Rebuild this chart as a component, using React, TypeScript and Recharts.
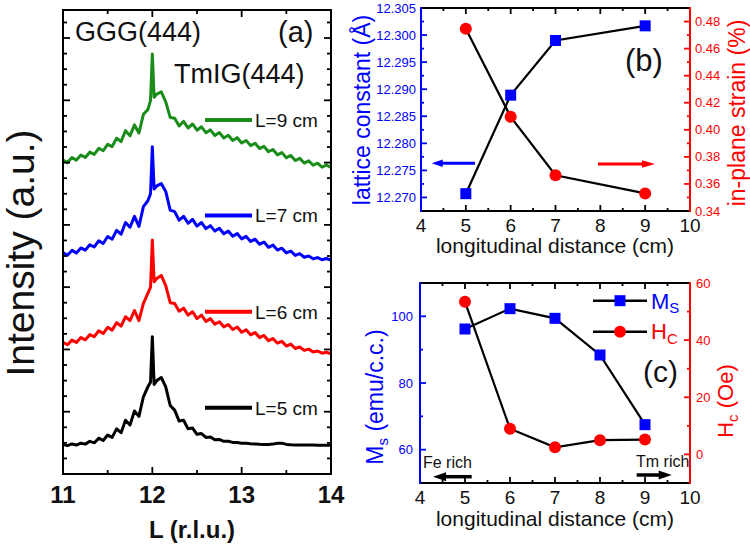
import React from 'react';
import { LineChart, Line, XAxis, YAxis } from 'recharts';

const FONT = '"Liberation Sans", Arial, Helvetica, sans-serif';
const BLUE = '#0000ff';
const RED = '#ff0000';
const GREEN = '#1a8c1a';
const INK = '#111111';

// ---------------- Panel (a): XRD scans (L in r.l.u., stacked intensity in a.u.)
const lValues = [
  11.0, 11.05, 11.1, 11.15, 11.2, 11.25, 11.3, 11.35, 11.4, 11.45, 11.5, 11.55, 11.6, 11.65, 11.7, 11.75, 11.8, 11.85, 11.9, 11.95,
  11.98, 12.0, 12.02,
  12.05, 12.1, 12.15, 12.2, 12.25, 12.3, 12.35, 12.4, 12.45, 12.5,
  12.55, 12.6, 12.65, 12.7, 12.75, 12.8, 12.85, 12.9, 12.95, 13.0,
  13.05, 13.1, 13.15, 13.2, 13.25, 13.3, 13.35, 13.4, 13.45, 13.5,
  13.55, 13.6, 13.65, 13.7, 13.75, 13.8, 13.85, 13.9, 13.95, 14.0,
];
const scanL5 = [
  1.9, 1.82, 1.93, 1.86, 1.98, 1.92, 2.1, 2.0, 2.3, 2.15, 2.5, 2.35, 2.9, 2.65, 3.45, 3.15, 4.05, 3.7, 4.96, 5.6,
  5.9, 8.82, 5.75,
  6.0, 6.2, 5.6, 4.4, 4.1, 3.4, 3.45, 2.9, 2.95, 2.55,
  2.6, 2.35, 2.38, 2.2, 2.22, 2.1, 2.1, 2.03, 2.02, 1.98,
  1.97, 1.94, 1.93, 1.91, 1.9, 1.9, 1.92, 1.97, 1.98, 1.9,
  1.88, 1.87, 1.87, 1.86, 1.86, 1.86, 1.85, 1.85, 1.85, 1.85,
];
const scanL6 = [
  8.45, 8.3, 8.6, 8.45, 8.76, 8.62, 8.95, 8.82, 9.2, 9.02, 9.42, 9.24, 9.72, 9.5, 10.1, 9.85, 10.5, 9.85, 10.96, 11.6,
  12.0, 15.03, 12.35,
  12.55, 12.75, 12.1, 11.0, 10.95, 10.45, 10.65, 10.2, 10.42, 9.98,
  10.2, 9.8, 9.98, 9.62, 9.78, 9.45, 9.6, 9.28, 9.44, 9.1,
  9.26, 8.94, 9.08, 8.76, 8.9, 8.56, 8.7, 8.4, 8.52, 8.22,
  8.34, 8.06, 8.16, 7.94, 8.02, 7.84, 7.9, 7.76, 7.82, 7.72,
];
const scanL7 = [
  14.22, 14.05, 14.36, 14.2, 14.52, 14.38, 14.72, 14.58, 14.98, 14.8, 15.25, 15.08, 15.65, 15.4, 16.15, 15.85, 16.55, 15.9, 17.17, 17.55,
  18.0, 21.02, 18.3,
  18.5, 18.65, 18.15, 16.95, 16.85, 16.3, 16.55, 16.1, 16.35, 15.92,
  16.15, 15.76, 15.95, 15.6, 15.78, 15.43, 15.6, 15.27, 15.44, 15.1,
  15.26, 14.94, 15.08, 14.75, 14.9, 14.56, 14.7, 14.38, 14.5, 14.2,
  14.32, 14.04, 14.15, 13.92, 14.0, 13.82, 13.9, 13.76, 13.84, 13.74,
];
const scanL9 = [
  20.17, 20.0, 20.32, 20.16, 20.48, 20.33, 20.67, 20.53, 20.92, 20.76, 21.17, 21.03, 21.56, 21.35, 22.05, 21.72, 22.42, 21.9, 23.1, 23.4,
  24.0, 26.97, 24.2,
  24.4, 24.55, 23.9, 22.9, 22.85, 22.35, 22.65, 22.22, 22.48, 22.08,
  22.3, 21.92, 22.1, 21.74, 21.93, 21.58, 21.76, 21.42, 21.6, 21.26,
  21.42, 21.09, 21.24, 20.9, 21.04, 20.7, 20.84, 20.5, 20.64, 20.31,
  20.46, 20.13, 20.28, 19.97, 20.11, 19.83, 19.96, 19.7, 19.85, 19.68,
];
const scanLabels = ['L=9 cm', 'L=7 cm', 'L=6 cm', 'L=5 cm'];
const lTicks = [11, 11.5, 12, 12.5, 13, 13.5, 14];
const lDomain = [11, 14];
const intensityDomain = [0, 29.8];
const intensityTicks = [
  0, 1, 2, 3, 4, 5, 6, 7, 8, 9, 10, 11, 12, 13, 14, 15, 16, 17, 18, 19, 20, 21, 22, 23, 24, 25, 26, 27, 28, 29,
];

// ---------------- Panel (b): lattice constant & strain
const distB = [5, 6, 7, 9];
const latticeConst = [12.2707, 12.2889, 12.299, 12.3017];
const strainPct = [0.4746, 0.4096, 0.3664, 0.353];
const latDomain = [12.2675, 12.305];
const strainDomain = [0.34, 0.49];
const latTicks = [
  12.27, 12.2725, 12.275, 12.2775, 12.28, 12.2825, 12.285, 12.2875, 12.29, 12.2925, 12.295, 12.2975, 12.3, 12.3025, 12.305,
];
const strainTicks = [0.34, 0.35, 0.36, 0.37, 0.38, 0.39, 0.4, 0.41, 0.42, 0.43, 0.44, 0.45, 0.46, 0.47, 0.48, 0.49];

// ---------------- Panel (c): Ms & Hc
const distC = [5, 6, 7, 8, 9];
const msValues = [96.2, 102.3, 99.4, 88.4, 67.5];
const hcValues = [53.4, 9.0, 2.5, 5.0, 5.2];
const msDomain = [50, 110];
const hcDomain = [-10, 60];
const msTicks = [60, 70, 80, 90, 100];
const hcTicks = [-10, 0, 10, 20, 30, 40, 50, 60];
const distDomain = [4, 10];
const distTicks = [4, 4.5, 5, 5.5, 6, 6.5, 7, 7.5, 8, 8.5, 9, 9.5, 10];

const dataA = lValues.map((L, i) => ({ L, s5: scanL5[i], s6: scanL6[i], s7: scanL7[i], s9: scanL9[i] }));
const dataB = distB.map((d, i) => ({ d, lat: latticeConst[i], strain: strainPct[i] }));
const dataC = distC.map((d, i) => ({ d, ms: msValues[i], hc: hcValues[i] }));

// Page layout of the three plot boxes and chart margins
const boxA = { left: 0, top: 0, width: 345, height: 545, m: { top: 9, right: 13, bottom: 0, left: 0 }, yl: 63, yr: 1, xb: 71, xt: 1 };
const boxB = { left: 345, top: 0, width: 405, height: 262, m: { top: 7, right: 0, bottom: 0, left: 0 }, yl: 76, yr: 60, xb: 51, xt: 1 };
const boxC = { left: 345, top: 262, width: 405, height: 283, m: { top: 20, right: 0, bottom: 0, left: 0 }, yl: 75, yr: 60, xb: 62, xt: 1 };
const plotRect = (b: typeof boxA) => ({
  x1: b.left + b.m.left + b.yl,
  x2: b.left + b.width - b.m.right - b.yr,
  y1: b.top + b.m.top + b.xt,
  y2: b.top + b.height - b.m.bottom - b.xb,
});

type Side = 'bottom' | 'top' | 'left' | 'right';
type TickSpec = {
  side: Side;
  base: number;
  step: number;
  major: number;
  minor: number;
  stroke: string;
  label?: { size: number; weight?: number; fill: string; offset: number; decimals: number };
};

const isMultiple = (v: number, base: number, step: number) => {
  const q = (v - base) / step;
  return Math.abs(q - Math.round(q)) < 1e-6;
};

function makeTick(s: TickSpec) {
  return (props: any) => {
    const { x, y, payload, index } = props;
    const v = Number(payload.value);
    const maj = isMultiple(v, s.base, s.step);
    const len = maj ? s.major : s.minor;
    const dx = s.side === 'left' ? len : s.side === 'right' ? -len : 0;
    const dy = s.side === 'bottom' ? -len : s.side === 'top' ? len : 0;
    let label: React.ReactNode = null;
    if (maj && s.label) {
      const t = s.label;
      const txt = v.toFixed(t.decimals);
      const common = {
        fontFamily: FONT,
        fontSize: t.size,
        fontWeight: t.weight ?? 400,
        fill: t.fill,
        dominantBaseline: 'central' as const,
      };
      if (s.side === 'bottom')
        label = (
          <text x={x} y={y + t.offset} textAnchor="middle" {...common}>
            {txt}
          </text>
        );
      else if (s.side === 'left')
        label = (
          <text x={x - t.offset} y={y} textAnchor="end" {...common}>
            {txt}
          </text>
        );
      else if (s.side === 'right')
        label = (
          <text x={x + t.offset} y={y} textAnchor="start" {...common}>
            {txt}
          </text>
        );
    }
    return (
      <g key={`tk${index}`}>
        <line x1={x} y1={y} x2={x + dx} y2={y + dy} stroke={s.stroke} strokeWidth={1.8} />
        {label}
      </g>
    );
  };
}

const squareDot = (color: string, size: number) => (p: any) => (
  <rect key={`sq${p.index}`} x={p.cx - size / 2} y={p.cy - size / 2} width={size} height={size} fill={color} />
);
const circleDot = (color: string, r: number) => (p: any) => (
  <circle key={`ci${p.index}`} cx={p.cx} cy={p.cy} r={r} fill={color} />
);

const axisProps = { tickSize: 0, tickMargin: 0, tickLine: false, interval: 0 as const, allowDataOverflow: true };
const frame = (c: string) => ({ stroke: c, strokeWidth: 2 });

function Arrow({ tail, tip, y, color, w, headL, headH }: { tail: number; tip: number; y: number; color: string; w: number; headL: number; headH: number }) {
  const dir = tip > tail ? 1 : -1;
  const base = tip - dir * headL;
  return (
    <g>
      <line x1={tail} y1={y} x2={base + dir * 1} y2={y} stroke={color} strokeWidth={w} />
      <polygon points={`${tip},${y} ${base},${y - headH} ${base},${y + headH}`} fill={color} />
    </g>
  );
}

// Plot frame as filled bars (robust rendering), coloured per side
function Frame({ b, left, right }: { b: typeof boxA; left: string; right: string }) {
  const r = plotRect(b);
  const w = 2;
  return (
    <g>
      <rect x={r.x1 - w / 2} y={r.y1 - w / 2} width={r.x2 - r.x1 + w} height={w} fill="#000" />
      <rect x={r.x1 - w / 2} y={r.y2 - w / 2} width={r.x2 - r.x1 + w} height={w} fill="#000" />
      <rect x={r.x1 - w / 2} y={r.y1 - w / 2} width={w} height={r.y2 - r.y1 + w} fill={left} />
      <rect x={r.x2 - w / 2} y={r.y1 - w / 2} width={w} height={r.y2 - r.y1 + w} fill={right} />
    </g>
  );
}

function PanelA() {
  const b = boxA;
  const tx = { base: 11, step: 1, major: 7, minor: 4, stroke: '#000' };
  const ty = { base: 0, step: 4, major: 7, minor: 4, stroke: '#000' };
  const lineProps = { type: 'linear' as const, strokeWidth: 3, dot: false, strokeLinejoin: 'round' as const, isAnimationActive: false };
  return (
    <div style={{ position: 'absolute', left: b.left, top: b.top }}>
      <LineChart width={b.width} height={b.height} data={dataA} margin={b.m}>
        <XAxis
          xAxisId="xa"
          dataKey="L"
          type="number"
          domain={lDomain}
          ticks={lTicks}
          height={b.xb}
          axisLine={frame('#000')}
          tick={makeTick({ side: 'bottom', ...tx, label: { size: 24, weight: 700, fill: INK, offset: 20, decimals: 0 } })}
          {...axisProps}
        />
        <XAxis
          xAxisId="xt"
          dataKey="L"
          orientation="top"
          type="number"
          domain={lDomain}
          ticks={lTicks}
          height={b.xt}
          axisLine={frame('#000')}
          tick={makeTick({ side: 'top', ...tx })}
          {...axisProps}
        />
        <YAxis
          yAxisId="ya"
          type="number"
          domain={intensityDomain}
          ticks={intensityTicks}
          width={b.yl}
          axisLine={frame('#000')}
          tick={makeTick({ side: 'left', ...ty })}
          {...axisProps}
        />
        <YAxis
          yAxisId="yr"
          orientation="right"
          type="number"
          domain={intensityDomain}
          ticks={intensityTicks}
          width={b.yr}
          axisLine={frame('#000')}
          tick={makeTick({ side: 'right', ...ty })}
          {...axisProps}
        />
        <Line xAxisId="xa" yAxisId="ya" dataKey="s5" stroke="#000" {...lineProps} />
        <Line xAxisId="xa" yAxisId="ya" dataKey="s6" stroke={RED} {...lineProps} />
        <Line xAxisId="xt" yAxisId="yr" dataKey="s7" stroke={BLUE} {...lineProps} />
        <Line xAxisId="xt" yAxisId="yr" dataKey="s9" stroke={GREEN} {...lineProps} />
      </LineChart>
    </div>
  );
}

function PanelB() {
  const b = boxB;
  const xt = { base: 4, step: 1, major: 6, minor: 3, stroke: '#000' };
  return (
    <div style={{ position: 'absolute', left: b.left, top: b.top }}>
      <LineChart width={b.width} height={b.height} data={dataB} margin={b.m}>
        <XAxis
          xAxisId="xb"
          dataKey="d"
          type="number"
          domain={distDomain}
          ticks={distTicks}
          height={b.xb}
          axisLine={frame('#000')}
          tick={makeTick({ side: 'bottom', ...xt, label: { size: 19, fill: INK, offset: 14, decimals: 0 } })}
          {...axisProps}
        />
        <XAxis
          xAxisId="xt"
          dataKey="d"
          orientation="top"
          type="number"
          domain={distDomain}
          ticks={distTicks}
          height={b.xt}
          axisLine={frame('#000')}
          tick={makeTick({ side: 'top', ...xt })}
          {...axisProps}
        />
        <YAxis
          yAxisId="lat"
          type="number"
          domain={latDomain}
          ticks={latTicks}
          width={b.yl}
          axisLine={frame(BLUE)}
          tick={makeTick({
            side: 'left', base: 12.27, step: 0.005, major: 6, minor: 3, stroke: BLUE,
            label: { size: 13, fill: BLUE, offset: 5, decimals: 3 },
          })}
          {...axisProps}
        />
        <YAxis
          yAxisId="strain"
          orientation="right"
          type="number"
          domain={strainDomain}
          ticks={strainTicks}
          width={b.yr}
          axisLine={frame(RED)}
          tick={makeTick({
            side: 'right', base: 0.34, step: 0.02, major: 6, minor: 3, stroke: RED,
            label: { size: 13, fill: RED, offset: 5, decimals: 2 },
          })}
          {...axisProps}
        />
        <Line xAxisId="xb" yAxisId="lat" dataKey="lat" type="linear" stroke="#000" strokeWidth={2.2} dot={squareDot(BLUE, 11)} isAnimationActive={false} />
        <Line xAxisId="xt" yAxisId="strain" dataKey="strain" type="linear" stroke="#000" strokeWidth={2.2} dot={circleDot(RED, 6)} isAnimationActive={false} />
      </LineChart>
    </div>
  );
}

function PanelC() {
  const b = boxC;
  const xt = { base: 4, step: 1, major: 6, minor: 3, stroke: '#000' };
  return (
    <div style={{ position: 'absolute', left: b.left, top: b.top }}>
      <LineChart width={b.width} height={b.height} data={dataC} margin={b.m}>
        <XAxis
          xAxisId="xc"
          dataKey="d"
          type="number"
          domain={distDomain}
          ticks={distTicks}
          height={b.xb}
          axisLine={frame('#000')}
          tick={makeTick({ side: 'bottom', ...xt, label: { size: 19, fill: INK, offset: 14, decimals: 0 } })}
          {...axisProps}
        />
        <XAxis
          xAxisId="xt"
          dataKey="d"
          orientation="top"
          type="number"
          domain={distDomain}
          ticks={distTicks}
          height={b.xt}
          axisLine={frame('#000')}
          tick={makeTick({ side: 'top', ...xt })}
          {...axisProps}
        />
        <YAxis
          yAxisId="ms"
          type="number"
          domain={msDomain}
          ticks={msTicks}
          width={b.yl}
          axisLine={frame(BLUE)}
          tick={makeTick({
            side: 'left', base: 60, step: 20, major: 6, minor: 3, stroke: BLUE,
            label: { size: 13, fill: BLUE, offset: 7, decimals: 0 },
          })}
          {...axisProps}
        />
        <YAxis
          yAxisId="hc"
          orientation="right"
          type="number"
          domain={hcDomain}
          ticks={hcTicks}
          width={b.yr}
          axisLine={frame(RED)}
          tick={makeTick({
            side: 'right', base: 0, step: 20, major: 6, minor: 3, stroke: RED,
            label: { size: 13, fill: RED, offset: 6, decimals: 0 },
          })}
          {...axisProps}
        />
        <Line xAxisId="xc" yAxisId="ms" dataKey="ms" type="linear" stroke="#000" strokeWidth={2.2} dot={squareDot(BLUE, 11)} isAnimationActive={false} />
        <Line xAxisId="xt" yAxisId="hc" dataKey="hc" type="linear" stroke="#000" strokeWidth={2.2} dot={circleDot(RED, 6)} isAnimationActive={false} />
      </LineChart>
    </div>
  );
}

function Overlay() {
  const legendColors = [GREEN, BLUE, RED, '#000'];
  const legendY = [120, 215.5, 311.8, 407.7];
  return (
    <svg
      width={750}
      height={545}
      style={{ position: 'absolute', left: 0, top: 0, pointerEvents: 'none' }}
      fontFamily={FONT}
    >
      <Frame b={boxA} left="#000" right="#000" />
      <Frame b={boxB} left={BLUE} right={RED} />
      <Frame b={boxC} left={BLUE} right={RED} />

      {/* Panel (a) */}
      <text x={34} y={253} fontSize={39} fill={INK} textAnchor="middle" transform="rotate(-90 34 253)">
        Intensity (a.u.)
      </text>
      <text x={192} y={538} fontSize={24} fontWeight={700} fill={INK} textAnchor="middle">
        L (r.l.u.)
      </text>
      <text x={75} y={41} fontSize={27} fill={INK}>GGG(444)</text>
      <text x={278} y={42} fontSize={29} fill={INK}>(a)</text>
      <text x={174} y={83} fontSize={27} fill={INK}>TmIG(444)</text>
      {scanLabels.map((lab, i) => (
        <g key={lab}>
          <line x1={205} y1={legendY[i]} x2={252} y2={legendY[i]} stroke={legendColors[i]} strokeWidth={4} />
          <text x={255} y={legendY[i] + 6.8} fontSize={19} fill={INK}>{lab}</text>
        </g>
      ))}

      {/* Panel (b) */}
      <text x={370} y={110} fontSize={23} fill={BLUE} textAnchor="middle" transform="rotate(-90 370 110)">
        lattice constant (Å)
      </text>
      <text x={745} y={113} fontSize={23} fill={RED} textAnchor="middle" transform="rotate(-90 745 113)">
        in-plane strain (%)
      </text>
      <text x={555} y={253} fontSize={21} fill={INK} textAnchor="middle">longitudinal distance (cm)</text>
      <text x={625} y={71} fontSize={31} fill={INK}>(b)</text>
      <Arrow tail={475} tip={431.7} y={163.3} color={BLUE} w={3} headL={11} headH={3.8} />
      <Arrow tail={598} tip={655} y={164} color={RED} w={3} headL={13} headH={3.8} />

      {/* Panel (c) */}
      <text x={383} y={397} fontSize={23} fill={BLUE} textAnchor="middle" transform="rotate(-90 383 397)">
        <tspan>M</tspan>
        <tspan dy={5} fontSize={15}>s</tspan>
        <tspan dy={-5}> (emu/c.c.)</tspan>
      </text>
      <text x={733} y={401} fontSize={22} fill={RED} textAnchor="middle" transform="rotate(-90 733 401)">
        <tspan>H</tspan>
        <tspan dy={5} fontSize={15}>c</tspan>
        <tspan dy={-5}> (Oe)</tspan>
      </text>
      <text x={555} y={526} fontSize={21} fill={INK} textAnchor="middle">longitudinal distance (cm)</text>
      <text x={643} y={382} fontSize={30} fill={INK}>(c)</text>
      <line x1={593} y1={300.7} x2={647} y2={300.7} stroke="#000" strokeWidth={2.5} />
      <rect x={614.5} y={295.2} width={11} height={11} fill={BLUE} />
      <text x={651} y={309} fontSize={22} fill={BLUE}>
        <tspan>M</tspan>
        <tspan dy={4} fontSize={15}>S</tspan>
      </text>
      <line x1={593} y1={331.7} x2={647} y2={331.7} stroke="#000" strokeWidth={2.5} />
      <circle cx={620} cy={331.7} r={6} fill={RED} />
      <text x={651} y={339} fontSize={22} fill={RED}>
        <tspan>H</tspan>
        <tspan dy={5} fontSize={15}>C</tspan>
      </text>
      <text x={423} y={468} fontSize={16} fill={INK}>Fe rich</text>
      <Arrow tail={471.7} tip={433} y={476.7} color="#000" w={3.5} headL={13} headH={4.5} />
      <text x={636} y={466.5} fontSize={16} fill={INK}>Tm rich</text>
      <Arrow tail={636.7} tip={671.7} y={475} color="#000" w={3.5} headL={13} headH={4.5} />
    </svg>
  );
}

export default function App() {
  return (
    <div style={{ position: 'absolute', left: 0, top: 0, width: 750, height: 545, background: '#fff', overflow: 'hidden' }}>
      <PanelA />
      <PanelB />
      <PanelC />
      <Overlay />
    </div>
  );
}
